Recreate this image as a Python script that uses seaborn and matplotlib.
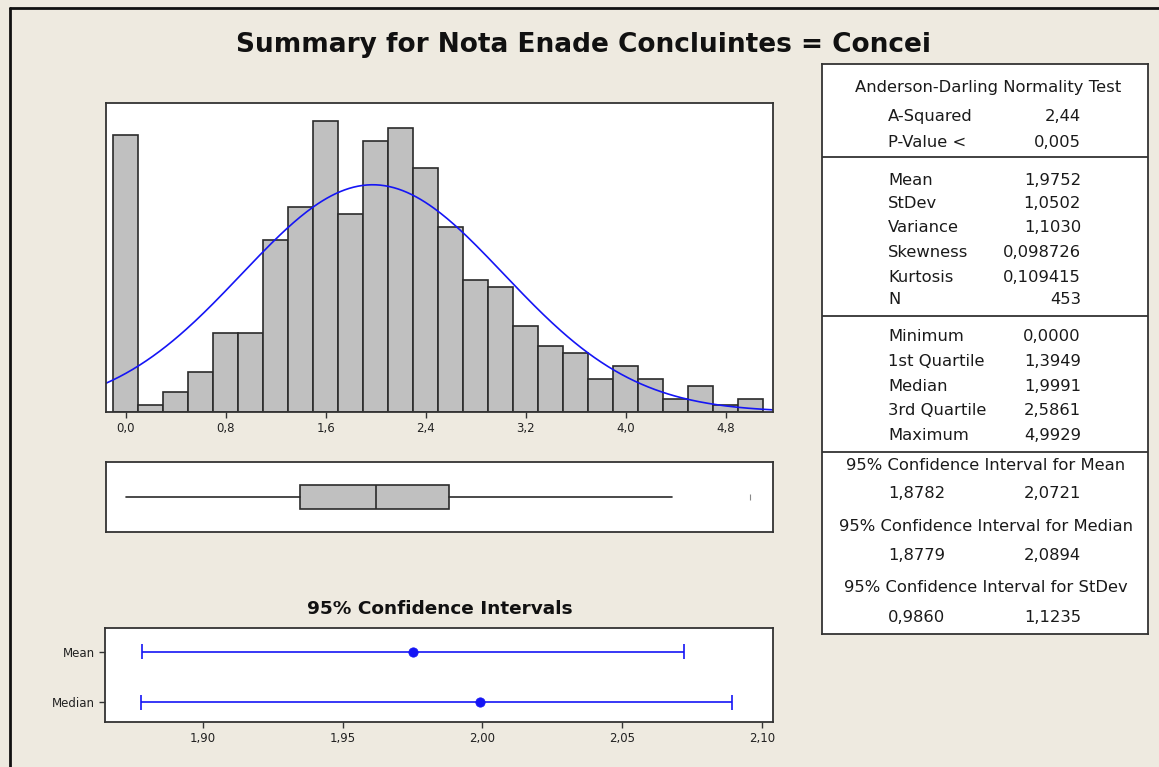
import numpy as np
import seaborn as sns
import matplotlib.pyplot as plt
from matplotlib.lines import Line2D

# histogram: bin centres (width 0.2) and counts
bin_centers = [0.0, 0.2, 0.4, 0.6, 0.8, 1.0, 1.2, 1.4, 1.6, 1.8, 2.0, 2.2, 2.4,
               2.6, 2.8, 3.0, 3.2, 3.4, 3.6, 3.8, 4.0, 4.2, 4.4, 4.6, 4.8, 5.0]
counts = [42, 1, 3, 6, 12, 12, 26, 31, 44, 30, 41, 43, 37,
          28, 20, 19, 13, 10, 9, 5, 7, 5, 2, 4, 1, 2]

n_obs = 453
mean = 1.9752
stdev = 1.0502

# boxplot summary
box_q1 = 1.3949
box_median = 1.9991
box_q3 = 2.5861
whisker_low = 0.0
whisker_high = 4.37
outliers = [4.9929]

# confidence intervals
ci_labels = ["Mean", "Median"]
ci_est = [1.9752, 1.9991]
ci_low = [1.8782, 1.8779]
ci_high = [2.0721, 2.0894]

# summary table text
ad_rows = [("A-Squared", "2,44"), ("P-Value <", "0,005")]
moment_rows = [("Mean", "1,9752"), ("StDev", "1,0502"), ("Variance", "1,1030"),
               ("Skewness", "0,098726"), ("Kurtosis", "0,109415"), ("N", "453")]
quant_rows = [("Minimum", "0,0000"), ("1st Quartile", "1,3949"), ("Median", "1,9991"),
              ("3rd Quartile", "2,5861"), ("Maximum", "4,9929")]
ci_rows = [("95% Confidence Interval for Mean", "1,8782", "2,0721"),
           ("95% Confidence Interval for Median", "1,8779", "2,0894"),
           ("95% Confidence Interval for StDev", "0,9860", "1,1235")]

hist_ticks = [0.0, 0.8, 1.6, 2.4, 3.2, 4.0, 4.8]
ci_ticks = [1.90, 1.95, 2.00, 2.05, 2.10]

bg = "#EEEAE0"
frame = "#333333"
blue = "#1515F5"

sns.set_theme(style="white")
plt.rcParams["font.family"] = ["DejaVu Sans"]
plt.rcParams["axes.edgecolor"] = frame
plt.rcParams["axes.linewidth"] = 1.3

W, H = 1159, 767
fig = plt.figure(figsize=(W / 100, H / 100), dpi=100, facecolor=bg)


def px_axes(x0, y0, x1, y1):
    return fig.add_axes([x0 / W, 1 - y1 / H, (x1 - x0) / W, (y1 - y0) / H])


def comma(v, nd):
    return f"{v:.{nd}f}".replace(".", ",")


# ---- histogram with fitted normal curve
ax_h = px_axes(106, 103, 773, 412)
sns.histplot(x=bin_centers, weights=counts, binwidth=0.2, binrange=(-0.1, 5.1),
             color="#C0C0C0", edgecolor="#2b2b2b", linewidth=1.2, alpha=1, ax=ax_h)
xs = np.linspace(-0.16, 5.18, 300)
ys = n_obs * 0.2 * np.exp(-0.5 * ((xs - mean) / stdev) ** 2) / (stdev * np.sqrt(2 * np.pi))
sns.lineplot(x=xs, y=ys, color=blue, linewidth=1.2, ax=ax_h)
ax_h.set_xlim(-0.16, 5.18)
ax_h.set_ylim(0, 46.8)
ax_h.set_xticks(hist_ticks)
ax_h.set_xticklabels([comma(t, 1) for t in hist_ticks])
ax_h.set_yticks([])
ax_h.set_ylabel("")
ax_h.tick_params(axis="x", bottom=True, length=4, width=1, color=frame,
                 labelsize=8.5, labelcolor="#222222", pad=3)

# ---- boxplot
ax_b = px_axes(106, 462, 773, 532)
stats = [dict(med=box_median, q1=box_q1, q3=box_q3, whislo=whisker_low,
              whishi=whisker_high, fliers=outliers)]
ax_b.bxp(stats, positions=[0], widths=0.7, vert=False, patch_artist=True, showcaps=False,
         boxprops=dict(facecolor="#C0C0C0", edgecolor="#2b2b2b", linewidth=1.2),
         medianprops=dict(color="#2b2b2b", linewidth=1.2),
         whiskerprops=dict(color="#2b2b2b", linewidth=1.2),
         flierprops=dict(marker="|", markersize=4, markeredgecolor="#888888", markeredgewidth=0.8))
ax_b.set_xlim(-0.16, 5.18)
ax_b.set_ylim(-1, 1)
ax_b.set_xticks([])
ax_b.set_yticks([])

# ---- confidence intervals
ax_c = px_axes(105, 628, 773, 722)
ypos = [0, 1]
for y, lo, hi in zip(ypos, ci_low, ci_high):
    ax_c.hlines(y, lo, hi, color=blue, linewidth=1.2)
    ax_c.vlines([lo, hi], y - 0.15, y + 0.15, color=blue, linewidth=1.2)
sns.scatterplot(x=ci_est, y=ypos, color=blue, s=45, edgecolor=blue, ax=ax_c, zorder=3)
ax_c.set_xlim(1.865, 2.104)
ax_c.set_ylim(1.39, -0.47)
ax_c.set_yticks(ypos)
ax_c.set_yticklabels(ci_labels)
ax_c.set_xticks(ci_ticks)
ax_c.set_xticklabels([comma(t, 2) for t in ci_ticks])
ax_c.tick_params(axis="both", bottom=True, left=True, length=4, width=1, color=frame,
                 labelsize=8.5, labelcolor="#222222", pad=3)
fig.text(440 / W, 1 - 609 / H, "95% Confidence Intervals", ha="center", va="center",
         fontsize=13.3, fontweight="bold", color="#111111")

# ---- summary table
ax_t = px_axes(822, 64, 1148, 634)
ax_t.set_xlim(822, 1148)
ax_t.set_ylim(634, 64)
ax_t.set_xticks([])
ax_t.set_yticks([])
ax_t.set_facecolor("white")
for yd in [157, 316, 452]:
    ax_t.axhline(yd, color=frame, linewidth=1.3)

fs = 11.8
tc = "#1a1a1a"
lx, rx = 888, 1081
ax_t.text(988, 88, "Anderson-Darling Normality Test", ha="center", va="center", fontsize=fs, color=tc)
for (lab, val), y in zip(ad_rows, [117, 143]):
    ax_t.text(lx, y, lab, ha="left", va="center", fontsize=fs, color=tc)
    ax_t.text(rx, y, val, ha="right", va="center", fontsize=fs, color=tc)
for (lab, val), y in zip(moment_rows, [181, 204, 228, 253, 278, 300]):
    ax_t.text(lx, y, lab, ha="left", va="center", fontsize=fs, color=tc)
    ax_t.text(rx, y, val, ha="right", va="center", fontsize=fs, color=tc)
for (lab, val), y in zip(quant_rows, [337, 362, 387, 411, 436]):
    ax_t.text(lx, y, lab, ha="left", va="center", fontsize=fs, color=tc)
    ax_t.text(rx, y, val, ha="right", va="center", fontsize=fs, color=tc)
for (lab, lo, hi), (y1, y2) in zip(ci_rows, [(466, 494), (527, 556), (588, 618)]):
    ax_t.text(986, y1, lab, ha="center", va="center", fontsize=fs, color=tc)
    ax_t.text(lx, y2, lo, ha="left", va="center", fontsize=fs, color=tc)
    ax_t.text(rx, y2, hi, ha="right", va="center", fontsize=fs, color=tc)

fig.text(583 / W, 1 - 45 / H, "Summary for Nota Enade Concluintes = Concei",
         ha="center", va="center", fontsize=19, fontweight="bold", color="#111111")

# outer frame edges visible at top and left
fig.add_artist(Line2D([10 / W, 1], [1 - 8 / H, 1 - 8 / H], color="#111111", linewidth=2))
fig.add_artist(Line2D([10 / W, 10 / W], [0, 1 - 8 / H], color="#111111", linewidth=2))

fig.savefig("out.png", dpi=100, facecolor=bg)
